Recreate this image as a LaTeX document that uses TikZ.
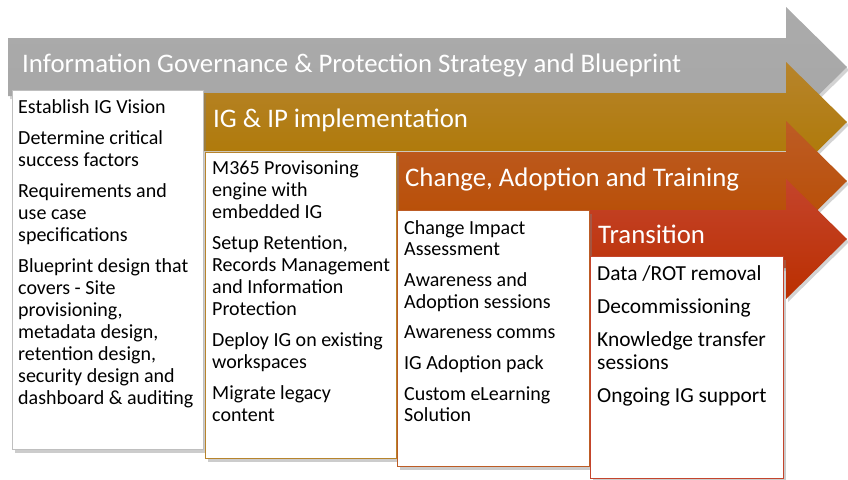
\documentclass[tikz,border=0pt]{standalone}
\usepackage{fontspec}
\setmainfont{Carlito}
\usetikzlibrary{shadows}
\definecolor{govgray}{HTML}{A6A6A6}
\definecolor{govgraytop}{HTML}{ABABAB}
\definecolor{implTop}{HTML}{B7842C}
\definecolor{implBot}{HTML}{AD7700}
\definecolor{chgTop}{HTML}{BD5C25}
\definecolor{chgBot}{HTML}{B84C00}
\definecolor{trnTop}{HTML}{C4442C}
\definecolor{trnBot}{HTML}{BB2F00}
\tikzset{
	phase/.style={drop shadow={opacity=0.35,shadow xshift=2pt,shadow yshift=-3pt}},
	heading/.style={anchor=base west,inner sep=0pt,text=white,font=\fontsize{26.8}{30}\selectfont},
	listbox/.style={draw,line width=1.2pt,fill=white,anchor=north west,inner sep=0pt,
		drop shadow={opacity=0.4,shadow xshift=2pt,shadow yshift=-3pt}},
	listtext/.style={anchor=north west,inner sep=0pt,align=left,font=\fontsize{20}{22}\selectfont}
}
\begin{document}
\begin{tikzpicture}[x=1pt,y=-1pt]
	\useasboundingbox (0,0) rectangle (848,479);
	% phase arrows
	\shade[phase,top color=govgraytop,bottom color=govgray] (8,38)--(786,38)--(786,7)--(847,67)--(786,127)--(786,96)--(8,96)--cycle;
	\shade[phase,top color=implTop,bottom color=implBot] (204,93)--(786,93)--(786,62)--(847,122)--(786,182)--(786,151)--(204,151)--cycle;
	\shade[phase,top color=chgTop,bottom color=chgBot] (397,152)--(786,152)--(786,121)--(847,181)--(786,241)--(786,210)--(397,210)--cycle;
	\shade[phase,top color=trnTop,bottom color=trnBot] (590,210)--(786,210)--(786,179)--(847,239)--(786,299)--(786,268)--(590,268)--cycle;
	\node[heading] (hdgov) at (22,72) {Information Governance \& Protection Strategy and Blueprint};
	\node[heading] (hdimpl) at (213,127) {IG \& IP implementation};
	\node[heading] (hdchange) at (405,186) {Change, Adoption and Training};
	\node[heading] (hdtrans) at (598,243) {Transition};
	% lists
	\node[listbox,draw=black!25,minimum width=191,minimum height=359] (boxgov) at (12,90) {};
	\node[listtext] (txtgov) at (18,99) {Establish IG Vision\\[9pt]
		Determine critical\\ success factors\\[9pt]
		Requirements and\\ use case\\ specifications\\[9pt]
		Blueprint design that\\ covers - Site\\ provisioning,\\ metadata design,\\ retention design,\\ security design and\\ dashboard \& auditing};
	\node[listbox,draw=implTop,minimum width=191,minimum height=306] (boximpl) at (205,152) {};
	\node[listtext] (txtimpl) at (212,161) {M365 Provisoning\\ engine with\\ embedded IG\\[9pt]
		Setup Retention,\\ Records Management\\ and Information\\ Protection\\[9pt]
		Deploy IG on existing\\ workspaces\\[9pt]
		Migrate legacy\\ content};
	\node[listbox,draw=chgTop,minimum width=192,minimum height=256] (boxchange) at (397,210) {};
	\node[listtext,font=\fontsize{20}{21.7}\selectfont] (txtchange) at (404,220) {Change Impact\\ Assessment\\[9pt]
		Awareness and\\ Adoption sessions\\[9pt]
		Awareness comms\\[9pt]
		IG Adoption pack\\[9pt]
		Custom eLearning\\ Solution};
	\node[listbox,draw=trnTop,minimum width=193,minimum height=222] (boxtrans) at (590,256) {};
	\node[listtext,font=\fontsize{21.4}{23}\selectfont] (txttrans) at (597,265) {Data /ROT removal\\[10pt]
		Decommissioning\\[10pt]
		Knowledge transfer\\ sessions\\[10pt]
		Ongoing IG support};
\end{tikzpicture}
\end{document}
